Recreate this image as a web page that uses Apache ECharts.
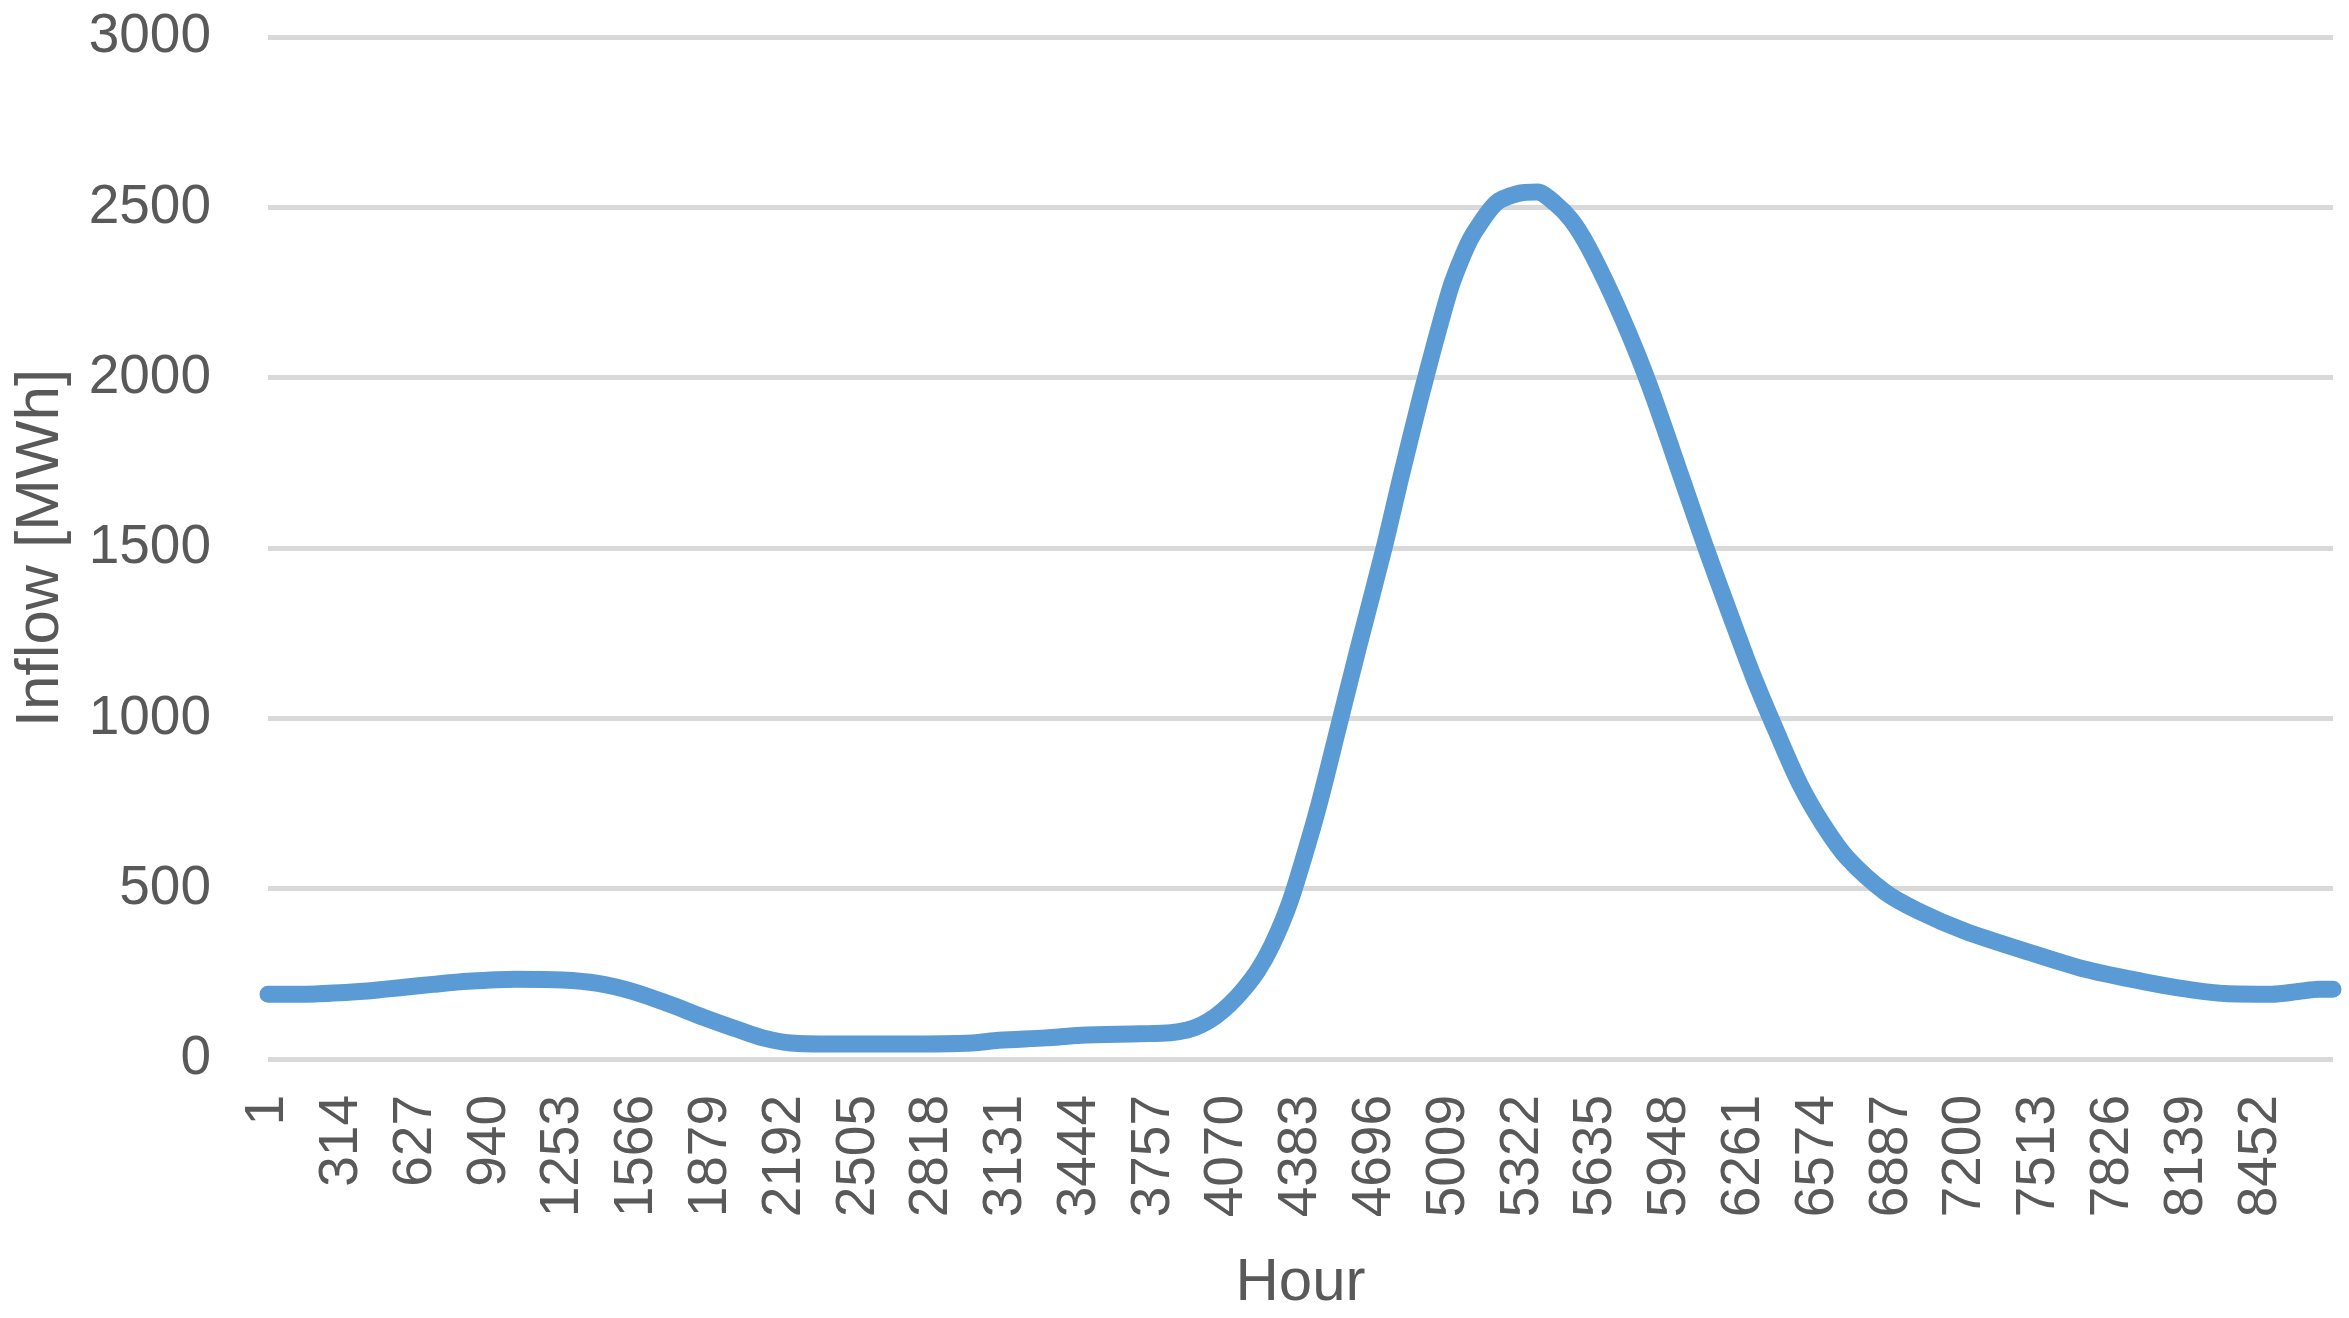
<!DOCTYPE html>
<html>
<head>
<meta charset="utf-8">
<script src="https://cdn.jsdelivr.net/npm/echarts@6/dist/echarts.min.js"></script>
<style>
  html, body { margin: 0; padding: 0; background: #ffffff; }
  #chart { width: 2349px; height: 1318px; }
</style>
</head>
<body>
<div id="chart"></div>
<script>
// Hour of year (x) and inflow in MWh (y)
const hours = [1, 200, 390, 500, 600, 700, 850, 1050, 1250, 1400, 1550, 1700, 1850, 2000, 2100, 2219,
  2400, 2700, 2990, 3100, 3300, 3450, 3700, 3830, 3900, 3960, 4020, 4080, 4140, 4200, 4260, 4330,
  4394, 4460, 4540, 4625, 4735, 4807, 4904, 5015, 5070, 5112, 5210, 5300, 5384, 5460, 5530, 5600,
  5700, 5800, 5880, 6000, 6100, 6200, 6300, 6400, 6500, 6600, 6700, 6860, 7000, 7200, 7450, 7700,
  7950, 8140, 8300, 8500, 8612, 8700, 8760];
const inflow = [190, 191, 198, 205, 212, 219, 228, 234, 232, 222, 198, 162, 122, 85, 62, 47,
  44, 44, 47, 55, 62, 70, 74, 77, 85, 100, 125, 160, 205, 260, 335, 450,
  590, 750, 970, 1205, 1500, 1710, 1980, 2260, 2360, 2420, 2513, 2540, 2545, 2512, 2462, 2385,
  2245, 2085, 1940, 1700, 1500, 1310, 1125, 960, 805, 685, 590, 490, 435, 375, 318, 265,
  228, 205, 192, 190, 198, 205, 205];
const xTickStart = 1;      // first hour label
const xTickStep = 313;     // hours between labels
const xEnd = 8760;
const yMax = 3000;
const yStep = 500;
const xTitle = 'Hour';
const yTitle = 'Inflow [MWh]';

const points = hours.map((h, i) => [h, inflow[i]]);

const chart = echarts.init(document.getElementById('chart'), null, { renderer: 'canvas' });
const font = 'Liberation Sans, Arial, sans-serif';
chart.setOption({
  animation: false,
  backgroundColor: '#ffffff',
  grid: { left: 268, right: 16, top: 37, bottom: 255, containLabel: false },
  xAxis: {
    type: 'value',
    min: xTickStart,
    max: xEnd,
    interval: xTickStep,
    name: xTitle,
    nameLocation: 'middle',
    nameGap: 194,
    nameTextStyle: { fontFamily: font, fontSize: 60, color: '#595959' },
    axisLine: { show: false },
    axisTick: { show: false },
    splitLine: { show: false },
    axisLabel: {
      rotate: 90,
      margin: 36,
      fontFamily: font,
      fontSize: 55,
      color: '#595959',
      showMaxLabel: false,
      showMinLabel: true,
      formatter: (v) => String(Math.round(v))
    }
  },
  yAxis: {
    type: 'value',
    min: 0,
    max: yMax,
    interval: yStep,
    name: yTitle,
    nameLocation: 'middle',
    nameGap: 196,
    nameTextStyle: { fontFamily: font, fontSize: 62, color: '#595959' },
    axisLine: { show: false },
    axisTick: { show: false },
    splitLine: { show: true, lineStyle: { color: '#d9d9d9', width: 5 } },
    axisLabel: {
      margin: 57, fontFamily: font, fontSize: 55, color: '#595959',
      formatter: (v) => String(Math.round(v))
    }
  },
  series: [{
    type: 'line',
    data: points,
    showSymbol: false,
    smooth: 0.3,
    lineStyle: { color: '#5b9bd5', width: 17, cap: 'round', join: 'round' },
    itemStyle: { color: '#5b9bd5' }
  }]
});
</script>
</body>
</html>
